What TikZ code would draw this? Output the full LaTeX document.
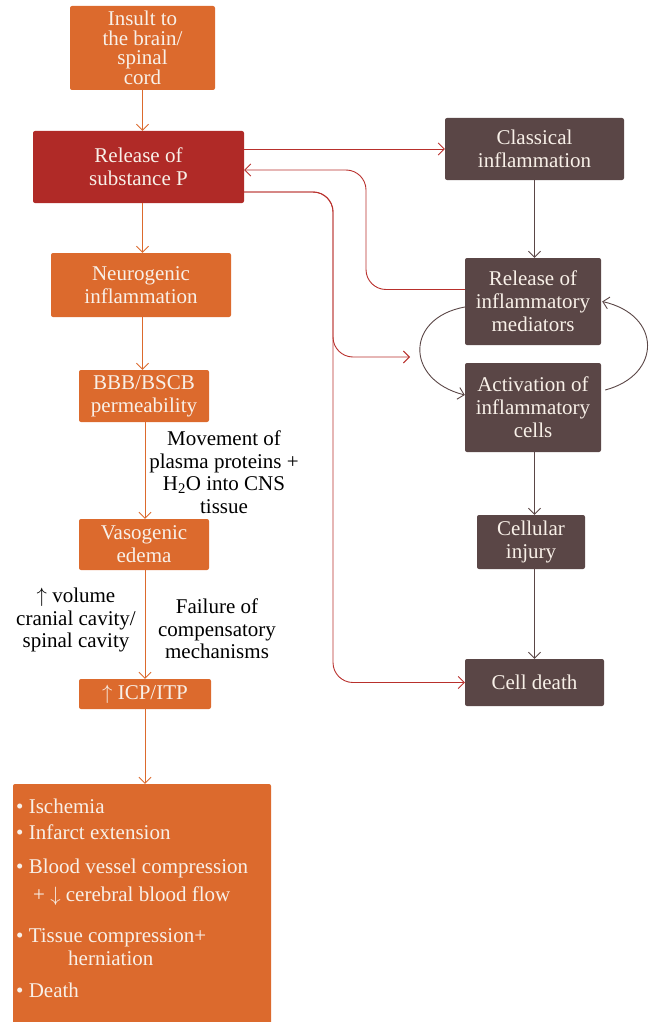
\documentclass[tikz,border=0pt]{standalone}
\usepackage{fontspec}
\setmainfont{Liberation Serif}
\usetikzlibrary{arrows.meta}
\definecolor{insultorange}{HTML}{DC6A2D}
\definecolor{subpred}{HTML}{B02A27}
\definecolor{inflbrown}{HTML}{5A4646}
\definecolor{boxtext}{HTML}{F8F0E8}
\definecolor{redline}{HTML}{B8302C}
\begin{document}
\begin{tikzpicture}[x=1pt,y=-1pt,>={Straight Barb[length=6pt,width=12pt]},
    box/.style={rounded corners=2pt,text=boxtext,align=center,inner sep=2pt,
      font=\fontsize{21}{23}\selectfont},
    obox/.style={box,fill=insultorange},
    rbox/.style={box,fill=subpred},
    gbox/.style={box,fill=inflbrown},
    oline/.style={draw=insultorange,line width=0.9pt},
    rline/.style={draw=redline,line width=0.9pt},
    gline/.style={draw=inflbrown,line width=0.9pt},
    note/.style={align=center,font=\fontsize{21}{22.5}\selectfont}]
  \useasboundingbox (0,0) rectangle (648,1022);
  %
  \node[obox,minimum width=145pt,minimum height=84pt,font=\fontsize{21}{19.5}\selectfont] (insult) at (142.5,48) {Insult to\\the brain/\\spinal\\cord};
  \node[rbox,minimum width=211pt,minimum height=72pt] (subp) at (138.5,167) {Release of\\substance P};
  \node[obox,minimum width=180pt,minimum height=64pt] (neuro) at (141,285) {Neurogenic\\inflammation};
  \node[obox,minimum width=130pt,minimum height=52pt] (bbb) at (144,396) {BBB/BSCB\\permeability};
  \node[obox,minimum width=130pt,minimum height=51pt] (vaso) at (144,544.5) {Vasogenic\\edema};
  \node[obox,minimum width=132pt,minimum height=30pt] (icp) at (145,694) {$\uparrow$ ICP/ITP};
  \node[obox,minimum width=258pt,minimum height=244pt] (effects) at (142,906) {};
  \node[anchor=north west,align=left,inner sep=0pt,text=boxtext,font=\fontsize{21}{23}\selectfont] (efflist) at (16,799)
    {\textbullet\ Ischemia\\[3pt]
     \textbullet\ Infarct extension\\[11pt]
     \textbullet\ Blood vessel compression\\[5pt]
     \hspace*{17pt}+ $\downarrow$ cerebral blood flow\\[18pt]
     \textbullet\ Tissue compression+\\
     \hspace*{52pt}herniation\\[9pt]
     \textbullet\ Death};
  %
  \node[gbox,minimum width=179pt,minimum height=62pt] (classic) at (534.5,149) {Classical\\inflammation};
  \node[gbox,minimum width=136pt,minimum height=87pt] (mediators) at (533,301.5) {Release of\\inflammatory\\mediators};
  \node[gbox,minimum width=136pt,minimum height=89pt] (activation) at (533,407.5) {Activation of\\inflammatory\\cells};
  \node[gbox,minimum width=108pt,minimum height=54pt] (injury) at (531,542) {Cellular\\injury};
  \node[gbox,minimum width=139pt,minimum height=47pt] (death) at (534.5,682.5) {Cell death};
  %
  \node[note] (movement) at (224,472) {Movement of\\plasma proteins +\\H\textsubscript{2}O into CNS\\tissue};
  \node[note] (volume) at (76,620) {$\uparrow$ volume\\cranial cavity/\\spinal cavity};
  \node[note] (failure) at (217,629) {Failure of\\compensatory\\mechanisms};
  %
  \draw[oline,->] (insult.south) -- (insult.south |- subp.north);
  \draw[oline,->] (subp.south -| insult.south) -- (neuro.north -| insult.south);
  \draw[oline,->] (neuro.south -| insult.south) -- (bbb.north -| insult.south);
  \draw[oline,->] (bbb.south -| icp.north) -- (vaso.north -| icp.north);
  \draw[oline,->] (vaso.south -| icp.north) -- (icp.north);
  \draw[oline,->] (icp.south) -- (icp.south |- effects.north);
  %
  \draw[gline,->] (classic.south) -- (classic.south |- mediators.north);
  \draw[gline,->] (activation.south -| classic.south) -- (injury.north -| classic.south);
  \draw[gline,->] (injury.south -| classic.south) -- (death.north -| classic.south);
  \draw[gline,->] ([yshift=-5.5pt]mediators.west) .. controls (405,318) and (405,380) .. ([yshift=12.5pt]activation.west);
  \draw[gline,->] ([shift={(4pt,17.5pt)}]activation.east) .. controls (662,375) and (662,315) .. ([xshift=1pt]mediators.east);
  %
  \coordinate (fbbend) at (366,170);
  \coordinate (spdrop) at (333,357);
  \coordinate (actin) at (410,357);
  \draw[rline,->] (subp.east |- classic.west) -- (classic.west);
  \draw[rline,->,rounded corners=20pt] ([yshift=12pt]mediators.west) -| (fbbend) -- (subp.east |- fbbend);
  \draw[rline,->,rounded corners=20pt] ([yshift=-25pt]subp.east) -| (spdrop) -- (actin);
  \draw[rline,->,rounded corners=20pt] ([yshift=-25pt]subp.east) -| (spdrop |- death.west) -- (death.west);
\end{tikzpicture}
\end{document}
